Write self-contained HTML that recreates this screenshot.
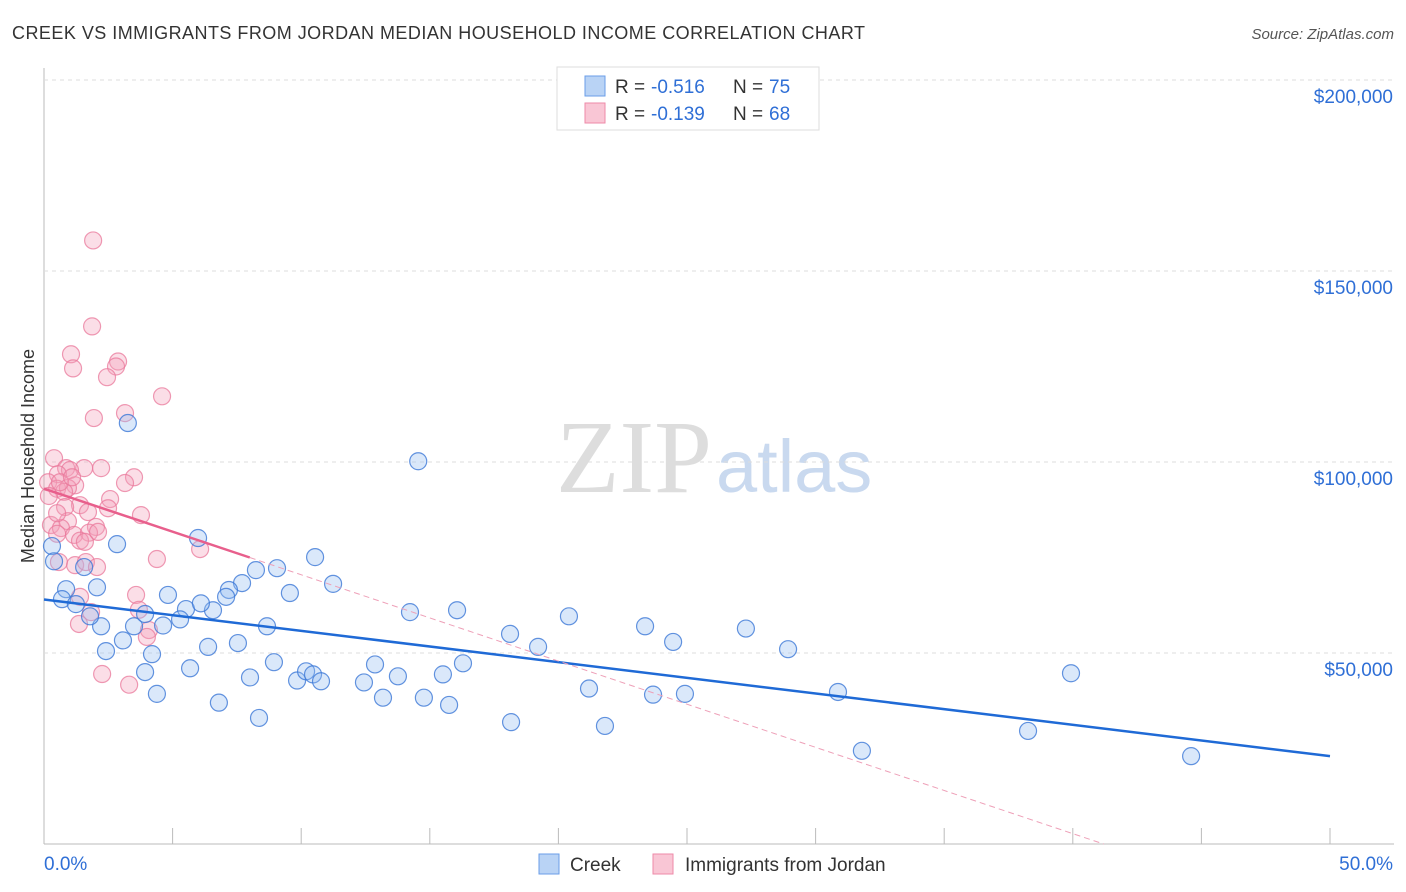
<!DOCTYPE html>
<html><head><meta charset="utf-8"><style>
body{margin:0;background:#fff;font-family:"Liberation Sans",sans-serif}
svg{display:block}
</style></head><body>
<svg width="1406" height="892" id="c">
<text x="12" y="39" font-size="18" fill="#333" textLength="853">CREEK VS IMMIGRANTS FROM JORDAN MEDIAN HOUSEHOLD INCOME CORRELATION CHART</text>
<text x="1394" y="39" font-size="15" fill="#555" font-style="italic" text-anchor="end">Source: ZipAtlas.com</text>
<text x="712" y="492" font-size="104" fill="#ddd" text-anchor="end" font-family="Liberation Serif">ZIP</text>
<text x="716" y="492" font-size="74" fill="#c9d9ef">atlas</text>
<text x="34" y="456" font-size="18" fill="#333" text-anchor="middle" transform="rotate(-90 34 456)">Median Household Income</text>
<g id="grid"></g><g id="pts"></g><g id="lines"></g>
<g>
<rect x="557" y="67" width="262" height="63" fill="#fff" stroke="#ddd"/>
<rect x="585" y="76" width="20" height="20" fill="#b9d3f5" stroke="#6a9ee8"/>
<rect x="585" y="103" width="20" height="20" fill="#f9c6d5" stroke="#ee8aa8"/>
<text x="615" y="93" font-size="19" fill="#333">R = </text><text x="651" y="93" font-size="19" fill="#2f6fd6">-0.516</text>
<text x="733" y="93" font-size="19" fill="#333">N = </text><text x="769" y="93" font-size="19" fill="#2f6fd6">75</text>
<text x="615" y="120" font-size="19" fill="#333">R = </text><text x="651" y="120" font-size="19" fill="#2f6fd6">-0.139</text>
<text x="733" y="120" font-size="19" fill="#333">N = </text><text x="769" y="120" font-size="19" fill="#2f6fd6">68</text>
</g>
<g>
<rect x="539" y="854" width="20" height="20" fill="#b9d3f5" stroke="#6a9ee8"/>
<text x="570" y="871" font-size="19" fill="#333">Creek</text>
<rect x="653" y="854" width="20" height="20" fill="#f9c6d5" stroke="#ee8aa8"/>
<text x="685" y="871" font-size="19" fill="#333">Immigrants from Jordan</text>
</g>
</svg>
<script>
const yTicks=[50000,100000,150000,200000];
const yTickLabels=["$50,000","$100,000","$150,000","$200,000"];
const xTickLabels=["0.0%","50.0%"];
const creekX=[3.26,14.55,0.31,0.39,2.84,5.99,10.54,8.24,9.06,2.06,0.86,0.70,1.56,4.82,7.70,7.19,7.08,9.56,11.24,1.24,5.52,6.57,6.10,5.29,4.63,3.50,2.22,1.79,3.07,2.41,4.20,6.38,7.54,8.67,14.23,16.06,20.41,23.37,27.29,18.12,19.21,24.46,28.93,5.68,3.93,8.01,8.94,9.84,10.19,10.46,10.77,12.44,12.87,13.76,15.51,16.29,13.18,14.77,15.75,21.19,23.68,24.92,30.87,4.39,6.80,8.36,18.16,21.81,31.80,38.26,39.93,44.60,3.93];
const creekY=[110200,100200,78000,74000,78500,80100,75100,71700,72200,67200,66700,64100,72500,65200,68300,66500,64700,65700,68100,62800,61500,61200,63000,58800,57200,57000,57000,59600,53300,50500,49700,51600,52600,57000,60700,61200,59600,57000,56400,55000,51600,52900,51000,46000,45000,43600,47600,42800,45200,44400,42600,42300,47000,43900,44400,47300,38300,38300,36400,40700,39100,39300,39800,39300,37000,33000,31900,30900,24400,29600,44700,23000,60200];
const jordX=[1.91,1.87,1.05,2.88,2.80,1.13,2.45,4.59,3.15,1.94,0.39,0.86,1.56,2.22,1.01,0.54,3.50,3.15,0.16,1.21,0.51,0.93,0.78,0.19,2.57,1.40,2.49,3.77,0.82,1.71,0.93,0.27,2.02,0.66,0.51,1.17,1.75,1.40,1.59,2.10,6.07,4.39,0.58,1.21,1.63,2.06,1.40,3.58,3.69,1.83,1.36,4.08,4.00,2.26,3.31,0.51,0.62,1.09];
const jordY=[158000,135500,128200,126300,125000,124500,122200,117200,112800,111500,101000,98400,98400,98400,97900,96800,96000,94500,94700,93900,93000,93200,92200,91100,90300,88700,87900,86100,88200,86900,84500,83500,83000,82700,81200,80900,81500,79400,79100,81700,77200,74600,73800,73000,73800,72500,64700,65200,61300,60700,57600,56000,54200,44500,41700,86600,94700,96000];
const trendBlue=[0,64000,50,23000];
const trendPinkSolid=[0,93000,8,75000];
const trendPinkDash=[8,75000,41.2,0];
const X=p=>44+p*25.72, Y=v=>844-v/50000*191;
const NS="http://www.w3.org/2000/svg";
function mk(t,a,par){const e=document.createElementNS(NS,t);for(const k in a)e.setAttribute(k,a[k]);document.getElementById(par).appendChild(e);return e;}
mk('line',{x1:44,y1:68,x2:44,y2:844,stroke:'#bbb'},'grid');
mk('line',{x1:44,y1:844,x2:1394,y2:844,stroke:'#bbb'},'grid');
yTicks.forEach((v,i)=>{
 const l=mk('line',{x1:44,y1:Y(v),x2:1394,y2:Y(v),stroke:'#ddd','stroke-dasharray':'4,4'},'grid');
 
 
 const t=mk('text',{x:1393,y:Y(v)+23,'font-size':19,fill:'#2f6fd6','text-anchor':'end'},'grid');
 t.textContent=yTickLabels[i];
 
 
});
for(let i=0;i<=10;i++){const l=mk('line',{x1:X(i*5),y1:828,x2:X(i*5),y2:844,stroke:'#bbb'},'grid');
 
 }
[[0,'start',44],[1,'end',1393]].forEach(([i,a,x])=>{const t=mk('text',{x:x,y:870,'font-size':19,fill:'#2f6fd6','text-anchor':a},'grid');t.textContent=xTickLabels[i];
 
 });
jordX.forEach((x,i)=>{const c=mk('circle',{cx:X(x),cy:Y(jordY[i]),r:8.5,fill:'rgba(244,160,185,0.35)',stroke:'rgba(234,120,155,0.75)','stroke-width':1.2},'pts');
 
 });
creekX.forEach((x,i)=>{const c=mk('circle',{cx:X(x),cy:Y(creekY[i]),r:8.5,fill:'rgba(150,190,240,0.35)',stroke:'rgba(60,120,215,0.8)','stroke-width':1.2},'pts');
 
 });
let l=mk('line',{x1:X(trendBlue[0]),y1:Y(trendBlue[1]),x2:X(trendBlue[2]),y2:Y(trendBlue[3]),stroke:'#1f6ad6','stroke-width':2.5},'lines');


l=mk('line',{x1:X(trendPinkSolid[0]),y1:Y(trendPinkSolid[1]),x2:X(trendPinkSolid[2]),y2:Y(trendPinkSolid[3]),stroke:'#e85f8c','stroke-width':2.5},'lines');


l=mk('line',{x1:X(trendPinkDash[0]),y1:Y(trendPinkDash[1]),x2:X(trendPinkDash[2]),y2:Y(trendPinkDash[3]),stroke:'#eea0b8','stroke-width':1,'stroke-dasharray':'6,4'},'lines');


</script>
</body></html>
